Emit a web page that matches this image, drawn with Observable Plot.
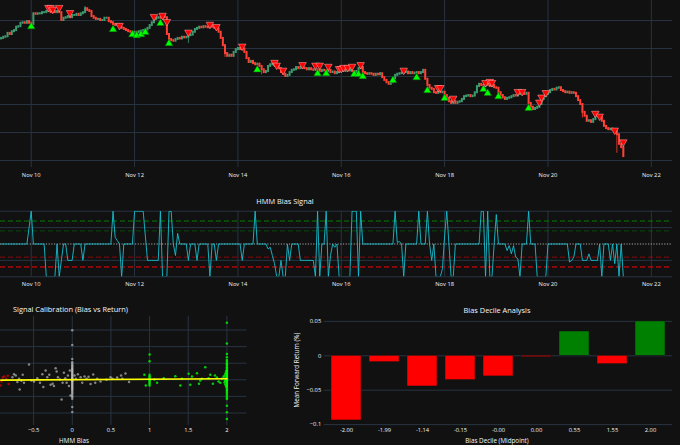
<!DOCTYPE html>
<html><head><meta charset="utf-8">
<script src="https://cdn.jsdelivr.net/npm/d3@7"></script>
<script src="https://cdn.jsdelivr.net/npm/@observablehq/plot@0.6"></script>
<style>
html,body{margin:0;padding:0;background:#111111;width:680px;height:445px;overflow:hidden;font-family:"Open Sans",sans-serif;}
#root{position:relative;width:680px;height:445px;background:#111111;}
.lbl{position:absolute;color:#f2f5fa;white-space:nowrap;line-height:1;font-family:"Open Sans",sans-serif;}
</style></head>
<body><div id="root"></div>
<script>
// ---------------- DATA ----------------
// hourly candles, first candle at 2025-11-09 10:00 UTC; closes in thousands of USD
const candleStartUTC = [2025, 10, 9, 10];
const firstOpenK = 101.7;
const closeK = [
101.8,102.0,102.1,102.7,102.5,103.0,103.2,103.8,103.9,104.5,
104.6,104.5,104.8,104.5,104.3,106.2,106.1,106.2,106.2,106.4,
106.4,106.6,106.8,106.4,106.6,106.4,106.6,106.4,105.0,105.4,
105.5,105.7,105.5,105.9,105.9,106.1,105.9,106.2,106.4,107.1,
106.8,106.6,105.7,105.4,105.2,105.2,105.0,105.0,105.4,105.4,
104.8,104.6,104.3,104.1,104.3,103.8,103.6,103.4,103.2,103.0,
102.9,102.7,102.9,102.8,103.0,103.1,103.2,103.3,103.6,104.1,
104.6,105.2,105.4,105.5,105.4,105.7,105.5,102.5,101.6,101.4,
101.3,101.6,101.8,101.7,102.0,101.9,102.0,102.3,102.4,102.9,
103.4,103.6,103.8,103.7,103.9,103.8,103.7,103.9,103.8,103.6,
103.5,102.9,101.8,100.5,99.1,98.6,98.8,98.6,99.3,99.8,
100.0,99.8,99.9,99.3,98.2,97.5,97.7,97.3,97.1,97.2,
96.8,96.2,95.7,95.9,96.8,97.1,97.3,97.0,96.8,96.4,
95.7,95.4,95.0,95.2,95.7,96.1,96.2,96.6,96.4,96.6,
96.5,96.4,96.2,96.4,96.2,96.1,96.2,96.1,95.9,96.1,
96.0,95.9,96.1,95.7,95.8,95.5,95.7,95.9,96.1,95.9,
96.1,96.0,96.2,95.9,95.7,95.9,96.4,96.6,95.7,95.5,
95.4,95.5,95.4,95.2,95.4,95.3,95.5,94.8,94.3,93.9,
93.6,93.9,94.6,95.2,95.4,95.5,95.6,95.7,95.8,95.5,
95.7,95.5,95.6,95.7,95.5,95.7,96.1,94.5,93.4,92.9,
92.7,92.1,92.0,92.3,92.1,92.2,91.6,91.1,90.5,90.2,
90.5,90.2,90.4,90.5,90.9,91.4,91.5,91.6,91.4,91.5,
92.1,93.2,93.6,93.4,93.2,93.6,93.4,93.2,93.4,93.0,
92.9,92.1,91.6,91.2,90.9,91.1,91.2,91.4,91.6,91.5,
91.8,92.0,91.9,91.8,92.0,90.2,89.5,89.1,89.3,89.5,
90.0,90.9,91.4,91.8,92.1,92.5,92.7,92.6,92.9,93.0,
92.5,92.3,92.1,92.2,92.0,92.1,92.0,91.4,90.7,90.0,
88.6,87.9,87.0,87.1,86.8,87.3,88.0,87.9,87.7,87.0,
86.1,85.7,85.5,85.6,85.4,85.2,84.6,82.9,82.3,80.7
];
// notable wicks (candle index -> price K)
const wickHighIdx = [39, 245];
const wickHighK = [107.5, 91.9];
const wickLowIdx = [87, 121, 286, 104, 270];
const wickLowK = [100.9, 95.3, 81.3, 98.4, 87.6];

// HMM signals (candle index, marker price K)
const buyIdx = [14,52,61,63,65,67,74,78,119,147,151,164,166,168,182,193,198,206,224,226,231,245];
const buyK = [103.9,103.4,102.5,102.3,102.5,102.9,104.5,100.9,96.2,95.5,95.5,95.4,95.4,95.0,94.3,94.8,92.5,91.1,92.7,92.0,91.4,89.3];
const sellIdx = [22,23,24,27,32,55,71,75,77,87,97,100,112,127,128,131,140,146,148,152,157,158,159,161,163,167,187,203,204,210,225,227,228,240,242,250,251,253,276,278,285,289];
const sellK = [107.3,107.3,107.0,107.3,106.4,104.1,105.7,105.9,104.8,102.9,104.3,103.9,100.4,97.5,97.0,96.1,97.1,97.0,97.0,96.8,96.4,96.4,96.6,96.6,96.8,97.1,96.1,93.0,93.0,91.1,93.9,94.1,93.9,92.3,92.3,90.4,91.3,92.1,88.4,87.9,85.4,83.3];

// HMM bias, one value per candle
const biasSignal = [
0,0,0,0,0,0,0,0,0,0,
0,0,0,1,2,0,0,0,0,0,
0,-2,-2,-2,-2,-2,0,-2,-1,0,
0,-1,-1,-1,0,0,0,0,-1,0,
0,0,0,0,0,0,0,0,0,0,
0,0,2,0.4,0.2,0,-2,0,0,0,
0,0,2,2,2,2,2,0.5,-1,-1,
-1,-1,-1,-1,2,-2,-2,-2,2,2,
0,-0.7,0.65,0,0,0,0,-1,0,0,
0,-1,0,0,0,0,0,-2,0,0,
-1,0,0,0,0,0,0,0,0,0,
0,0,-1,0,0,0,0,0,2,0,
0,0,0,0,-0.3,-0.2,-0.7,-1.2,-2,-2,
-1,-2,-2,0,-1,0,0,0,0,-1,
-1,-1,-1,-1,-1,-1,-2,2,-2,0,
0,2,-2,-0.7,0,-0.2,0,-2,-2,-2,
-2,-2,-2,2,2,2,-2,2,0,0,
0,0,0,0,0,0,0,0,0,0,
0,0,0,2,0.1,0.15,0,-2,0,0,
0,0,0,0,2,0,0,0,2,0,
-1,0,-2,-2,-2,-1.5,0.5,2,0,-2,
-2,0,0,0,0,0,0,0,0,0,
0,0,0,2,2,-2,2,-2,-2,0,
1.8,0,0,0,0,-0.4,-0.1,-0.6,-0.1,-0.8,
-0.9,-2,0,0,0,2,0,0,0,-2,
-2,-2,-2,-2,0,0,0,0,0,0,
0,0,0,0,-1.1,-1,-0.8,0,0,0,
-1,-1,-1,-0.6,-1,-1,-1,-1,0,-2,
0,0,0,-1,0,-1.2,0,-2,0,-2
];
const strongBuy = 1.4, weakBuy = 0.8, weakSell = -0.8, strongSell = -1.4;

// calibration scatter: HMM bias vs forward return (%)
const calBias = [
-0.925,-0.916,-0.899,-0.882,-0.856,-0.834,-0.822,
-0.774,-0.753,-0.731,-0.710,-0.688,-0.680,-0.658,-0.641,-0.624,-0.559,-0.529,-0.495,-0.452,-0.417,-0.387,-0.374,-0.344,-0.323,-0.297,-0.280,-0.254,-0.237,-0.215,-0.202,-0.185,-0.159,-0.138,-0.125,-0.108,-0.090,-0.073,-0.056,-0.043,-0.030,-0.022,
0,0,0,0,0,0,0,0,0,0,0,0,0,0,0,0,0,0,0,0,0,0,0,0,0,0,0,0,0,0,0,0,0,0,0,0,0,0,0,0,
0.030,0.047,0.073,0.108,0.129,0.159,0.185,0.211,0.237,0.271,0.297,0.323,0.366,0.443,0.495,0.520,0.581,0.632,0.649,0.688,0.735,
0.933,0.951,1,1,1,1,1,1,1,1,1,1,1,
1.062,1.097,1.183,1.333,1.398,1.419,1.505,1.527,1.548,1.613,1.639,1.656,1.677,1.720,1.763,1.785,1.819,1.845,1.871,1.892,1.914,1.935,1.957,
1.97,1.97,1.98,1.98,1.99,1.99,1.985,1.975,
2,2,2,2,2,2,2,2,2,2,2,2,2,2,2,2,2,2,2,2,2,2,2,2,2,2,2,2,2,2,2,2,2,2,2,2,2,2,2,2,2,2
];
const calRet = [
-0.17,-0.05,0.07,0.10,0.03,0.12,-0.13,
0.08,0.17,0.13,-0.07,0.03,-0.29,-0.03,0.15,-0.09,0.46,-0.02,-0.05,0.05,-0.09,0.17,-0.22,0.28,0.08,0.15,-0.15,-0.12,-0.19,0.35,0.25,0.08,0.01,-0.59,-0.09,0.21,0.05,-0.09,0.13,-0.19,0.28,-0.47,
1.49,1.05,0.63,0.53,0.48,0.44,0.40,0.36,0.33,0.30,0.27,0.24,0.21,0.18,0.15,0.12,0.09,0.06,0.04,0.02,0.00,-0.02,-0.04,-0.06,-0.09,-0.12,-0.15,-0.18,-0.21,-0.24,-0.27,-0.30,-0.34,-0.38,-0.42,-0.47,-0.52,-0.57,-0.82,-0.97,
0.13,0.03,0.17,0.08,-0.09,0.10,0.03,0.09,-0.13,0.16,-0.09,0.03,-0.05,0.00,0.08,0.03,0.07,0.13,0.03,0.19,-0.07,
0.15,-0.17,0.76,0.56,0.15,0.11,0.07,0.03,-0.01,-0.05,-0.09,-0.13,-0.17,
0.01,-0.09,0.05,0.11,-0.17,0.03,0.18,-0.15,0.10,0.20,-0.12,-0.02,0.03,0.38,0.05,0.15,-0.12,0.13,0.07,-0.05,-0.09,0.03,0.09,
0.12,-0.08,0.18,-0.14,0.25,-0.20,0.05,-0.03,
1.72,1.09,0.78,0.68,0.60,0.55,0.50,0.46,0.42,0.38,0.34,0.30,0.27,0.24,0.21,0.18,0.15,0.12,0.09,0.06,0.04,0.02,0.00,-0.02,-0.04,-0.07,-0.10,-0.13,-0.16,-0.19,-0.22,-0.26,-0.30,-0.34,-0.38,-0.43,-0.48,-0.53,-0.58,-0.78,-0.98,-1.18
];
const fitIntercept = 0.003, fitSlope = 0.014;

// decile analysis
const decileLabels = ["-2.00","-1.99","-1.14","-0.15","-0.00","0.00","0.55","1.55","2.00"];
const decileReturn = [-0.094,-0.0093,-0.0446,-0.0354,-0.030,-0.002,0.0353,-0.0122,0.0499];

// ticks
const dayTickStrings = ["2025-11-10","2025-11-12","2025-11-14","2025-11-16","2025-11-18","2025-11-20","2025-11-22"];
const priceTicksK = [80,85,90,95,100,105];
const biasTicks = [-2,-1,1,2];
const calXTicks = [-0.5,0,0.5,1,1.5,2];
const calYTicks = [-1,-0.5,0,0.5,1,1.5];
const decileYTicks = [-0.1,-0.05,0,0.05];

// ---------------- BUILD ----------------
const GRID = "#283442", TXT = "#f2f5fa", UP = "#3D9970", DN = "#FF4136";
const root = document.getElementById("root");
const t0 = Date.UTC(...candleStartUTC);
const hour = 3600e3;
const tOf = i => new Date(t0 + i * hour);
const xDomain = [new Date(Date.UTC(2025,10,9,9,44)), new Date(Date.UTC(2025,10,22,9,50))];
const dayTicks = dayTickStrings.map(s => new Date(s + "T00:00:00Z"));
const fmtDay = d3.utcFormat("%b %-d");
const minus = v => (v < 0 ? "\u2212" : "") + String(Math.abs(v));

const candles = closeK.map((c, i) => {
  const o = i === 0 ? firstOpenK : closeK[i - 1];
  let hi = Math.max(o, c), lo = Math.min(o, c);
  const hI = wickHighIdx.indexOf(i); if (hI >= 0) hi = Math.max(hi, wickHighK[hI]);
  const lI = wickLowIdx.indexOf(i); if (lI >= 0) lo = Math.min(lo, wickLowK[lI]);
  return {t: tOf(i), o, c, hi, lo, up: c >= o};
});
const upC = candles.filter(d => d.up), dnC = candles.filter(d => !d.up);
const buys = buyIdx.map((k, j) => ({t: tOf(k), p: buyK[j]}));
const sells = sellIdx.map((k, j) => ({t: tOf(k), p: sellK[j]}));
const biasData = biasSignal.map((v, i) => ({t: tOf(i), v}));
const cal = calBias.map((b, i) => ({b, r: calRet[i], cls: b > weakBuy ? "buy" : b < weakSell ? "sell" : "neutral"}));
const bExt = d3.extent(calBias);
const fitLine = bExt.map(b => ({b, r: fitIntercept + fitSlope * b}));
const deciles = decileLabels.map((l, i) => ({l, v: decileReturn[i]}));

const baseStyle = {background: "transparent", color: TXT, fontFamily: "'Open Sans', sans-serif", fontSize: "5.75px", overflow: "visible"};

function place(el, left, top) {
  el.style.position = "absolute"; el.style.left = left + "px"; el.style.top = top + "px";
  root.appendChild(el);
}
function label(text, x, y, size, opts = {}) {
  const d = document.createElement("div");
  d.className = "lbl"; d.textContent = text;
  d.style.fontSize = size + "px";
  d.style.left = x + "px"; d.style.top = y + "px";
  const ax = opts.anchor === "start" ? "0%" : "-50%";
  d.style.transform = `translate(${ax},-50%)`;
  root.appendChild(d);
  return d;
}

// 1. Price panel
const pricePlot = Plot.plot({
  width: 680, height: 190, marginLeft: 0, marginRight: 8, marginTop: 0, marginBottom: 23,
  style: baseStyle,
  x: {type: "utc", domain: xDomain},
  y: {domain: [78.75, 108.57], axis: null},
  marks: [
    Plot.gridY({ticks: priceTicksK, stroke: GRID, strokeOpacity: 1}),
    Plot.gridX({ticks: dayTicks, stroke: GRID, strokeOpacity: 1}),
    Plot.axisX({ticks: dayTicks, tickFormat: fmtDay, tickSize: 0, tickPadding: 5, label: null}),
    Plot.ruleX(upC, {x: "t", y1: "lo", y2: "hi", stroke: UP, strokeWidth: 0.8, clip: true}),
    Plot.ruleX(dnC, {x: "t", y1: "lo", y2: "hi", stroke: DN, strokeWidth: 0.8, clip: true}),
    Plot.ruleX(upC, {x: "t", y1: "o", y2: "c", stroke: UP, strokeWidth: 2.0, strokeLinecap: "square", clip: true}),
    Plot.ruleX(dnC, {x: "t", y1: "o", y2: "c", stroke: DN, strokeWidth: 2.0, strokeLinecap: "square", clip: true}),
    Plot.dot(buys, {x: "t", y: "p", symbol: "triangle", r: 2.8, fill: "#00ff00", stroke: "#0b6b0b", strokeWidth: 0.5}),
    Plot.dot(sells, {x: "t", y: "p", symbol: "triangle", rotate: 180, r: 2.8, fill: "#ff0000", stroke: "#ffb3b3", strokeWidth: 0.5})
  ]
});
place(pricePlot, 0, 0);

// 2. Bias signal panel
const biasPlot = Plot.plot({
  width: 680, height: 100, marginLeft: 0, marginRight: 8, marginTop: 20.7, marginBottom: 13.7,
  style: baseStyle,
  x: {type: "utc", domain: xDomain},
  y: {domain: [-2, 2], axis: null},
  marks: [
    Plot.gridY({ticks: biasTicks, stroke: GRID, strokeOpacity: 1}),
    Plot.gridX({ticks: dayTicks, stroke: GRID, strokeOpacity: 1}),
    Plot.axisX({ticks: dayTicks, tickFormat: fmtDay, tickSize: 0, tickPadding: 5, label: null}),
    Plot.ruleY([strongBuy], {stroke: "#008000", strokeWidth: 1, strokeDasharray: "5,3"}),
    Plot.ruleY([weakBuy], {stroke: "#008000", strokeOpacity: 0.5, strokeWidth: 1, strokeDasharray: "5,3"}),
    Plot.ruleY([weakSell], {stroke: "#ff0000", strokeOpacity: 0.5, strokeWidth: 1, strokeDasharray: "5,3"}),
    Plot.ruleY([strongSell], {stroke: "#ff0000", strokeWidth: 1, strokeDasharray: "5,3"}),
    Plot.ruleY([0], {stroke: "#cfcfcf", strokeWidth: 0.8, strokeDasharray: "1.2,1.5"}),
    Plot.line(biasData, {x: "t", y: "v", stroke: "#17becf", strokeWidth: 0.9, clip: true})
  ]
});
place(biasPlot, 0, 190);
label("HMM Bias Signal", 285, 202, 7.4);

// 3. Calibration scatter
const calPlot = Plot.plot({
  width: 250, height: 150, marginLeft: 0, marginRight: 3.5, marginTop: 21, marginBottom: 20,
  style: baseStyle,
  x: {domain: [-0.928, 2.26]},
  y: {domain: [-1.377, 1.907], axis: null},
  marks: [
    Plot.gridX({ticks: calXTicks, stroke: GRID, strokeOpacity: 1}),
    Plot.gridY({ticks: calYTicks, stroke: GRID, strokeOpacity: 1}),
    Plot.axisX({ticks: calXTicks, tickFormat: minus, tickSize: 0, tickPadding: 2.5, label: null}),
    Plot.dot(cal.filter(d => d.cls === "neutral"), {x: "b", y: "r", r: 1.25, fill: "#d0d0d0", fillOpacity: 0.6, clip: true}),
    Plot.dot(cal.filter(d => d.cls === "sell"), {x: "b", y: "r", r: 1.25, fill: "#ff0000", fillOpacity: 0.6, clip: true}),
    Plot.dot(cal.filter(d => d.cls === "buy"), {x: "b", y: "r", r: 1.25, fill: "#00ff00", fillOpacity: 0.8, clip: true}),
    Plot.line(fitLine, {x: "b", y: "r", stroke: "#ffff00", strokeWidth: 1.6, clip: true})
  ]
});
place(calPlot, 0, 295);
label("Signal Calibration (Bias vs Return)", 13, 310, 7.4, {anchor: "start"});
label("HMM Bias", 74, 441, 6.3);

// 4. Decile bars
const decPlot = Plot.plot({
  width: 430, height: 150, marginLeft: 73.7, marginRight: 8, marginTop: 21, marginBottom: 20,
  style: baseStyle,
  x: {domain: decileLabels, paddingInner: 0.2, paddingOuter: 0.1},
  y: {domain: [-0.1013, 0.0571]},
  marks: [
    Plot.gridY({ticks: decileYTicks, stroke: GRID, strokeOpacity: 1}),
    Plot.axisY({ticks: decileYTicks, tickFormat: minus, tickSize: 0, tickPadding: 3, label: null}),
    Plot.axisX({tickSize: 0, tickPadding: 2.5, label: null}),
    Plot.barY(deciles, {x: "l", y: "v", fill: d => d.v > 0 ? "#008000" : "#ff0000", stroke: "#111111", strokeWidth: 0.5})
  ],
  color: {type: "identity"}
});
place(decPlot, 250, 295);
label("Bias Decile Analysis", 497, 311, 7.4);
label("Bias Decile (Midpoint)", 497, 441, 6.3);
const yl = label("Mean Forward Return (%)", 297, 370, 6.3);
yl.style.transform = "translate(-50%,-50%) rotate(-90deg)";
yl.style.transformOrigin = "50% 50%";
</script>
</body></html>
